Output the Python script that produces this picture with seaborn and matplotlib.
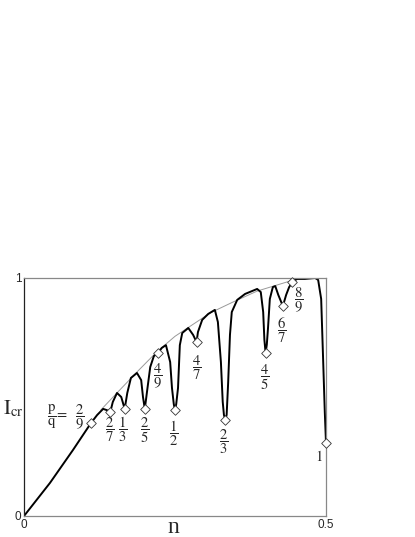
import matplotlib
matplotlib.use("Agg")
import matplotlib.pyplot as plt
import seaborn as sns
import pandas as pd

# critical current curve
n_curve = [0.0, 0.043, 0.081, 0.111, 0.121, 0.131, 0.137, 0.1429, 0.147, 0.154,
           0.161, 0.1667, 0.171, 0.177, 0.187, 0.194, 0.197, 0.2, 0.204, 0.209,
           0.215, 0.2222, 0.228, 0.235, 0.242, 0.245, 0.248, 0.25, 0.252, 0.255,
           0.258, 0.262, 0.272, 0.280, 0.2857, 0.288, 0.295, 0.305, 0.316, 0.321,
           0.326, 0.329, 0.331, 0.3333, 0.3355, 0.338, 0.341, 0.344, 0.353, 0.366,
           0.386, 0.392, 0.396, 0.398, 0.4, 0.402, 0.404, 0.407, 0.412, 0.416,
           0.421, 0.4286, 0.434, 0.439, 0.4444, 0.452, 0.465, 0.482, 0.487, 0.492,
           0.495, 0.498, 0.5]
i_curve = [0.0, 0.139, 0.277, 0.391, 0.424, 0.450, 0.445, 0.437, 0.479, 0.517,
           0.500, 0.450, 0.517, 0.580, 0.601, 0.571, 0.500, 0.450, 0.529, 0.626,
           0.672, 0.685, 0.706, 0.718, 0.647, 0.538, 0.470, 0.445, 0.470, 0.538,
           0.718, 0.769, 0.790, 0.761, 0.731, 0.773, 0.824, 0.849, 0.866, 0.815,
           0.647, 0.480, 0.425, 0.403, 0.425, 0.560, 0.761, 0.857, 0.908, 0.933,
           0.954, 0.941, 0.857, 0.740, 0.685, 0.720, 0.790, 0.912, 0.962, 0.966,
           0.929, 0.882, 0.929, 0.962, 0.983, 0.996, 0.996, 1.0, 0.992, 0.912,
           0.676, 0.437, 0.307]

# thin envelope
n_env = [0.127, 0.155, 0.187, 0.220, 0.250, 0.291, 0.308, 0.346, 0.386, 0.444, 0.457]
i_env = [0.445, 0.520, 0.605, 0.690, 0.755, 0.824, 0.853, 0.899, 0.945, 0.990, 1.0]

# resonances p/q at n = p/(2q)
pq_labels = [r"$\dfrac{2}{9}$", r"$\dfrac{2}{7}$", r"$\dfrac{1}{3}$", r"$\dfrac{2}{5}$",
             r"$\dfrac{4}{9}$", r"$\dfrac{1}{2}$", r"$\dfrac{4}{7}$", r"$\dfrac{2}{3}$",
             r"$\dfrac{4}{5}$", r"$\dfrac{6}{7}$", r"$\dfrac{8}{9}$", "1"]
n_res = [1 / 9, 1 / 7, 1 / 6, 1 / 5, 2 / 9, 1 / 4, 2 / 7, 1 / 3, 2 / 5, 3 / 7, 4 / 9, 1 / 2]
i_res = [0.391, 0.437, 0.450, 0.450, 0.685, 0.445, 0.731, 0.403, 0.685, 0.882, 0.983, 0.307]

# where each label sits
lab_x = [0.0927, 0.142, 0.164, 0.199, 0.222, 0.248, 0.286, 0.330, 0.399, 0.427, 0.455, 0.488]
lab_y = [0.416, 0.362, 0.364, 0.362, 0.585, 0.348, 0.625, 0.314, 0.585, 0.780, 0.905, 0.248]

sns.set_style("white")
plt.rcParams["mathtext.fontset"] = "stix"
plt.rcParams["font.family"] = ["Liberation Sans", "DejaVu Sans"]

fig = plt.figure(figsize=(4.15, 5.37), dpi=100)
ax = fig.add_axes([24 / 415, 21 / 537, 302 / 415, 238 / 537])

df_curve = pd.DataFrame({"n": n_curve, "I": i_curve})
df_env = pd.DataFrame({"n": n_env, "I": i_env})
df_res = pd.DataFrame({"n": n_res, "I": i_res})

sns.lineplot(data=df_env, x="n", y="I", color="#999999", lw=0.7, estimator=None, ax=ax)
sns.lineplot(data=df_curve, x="n", y="I", color="black", lw=1.4, estimator=None, ax=ax)
sns.scatterplot(data=df_res, x="n", y="I", marker="D", s=24, facecolor="white",
                edgecolor="#333333", linewidth=0.6, zorder=5, clip_on=False, ax=ax)

for lab, x, y in zip(pq_labels, lab_x, lab_y):
    ax.text(x, y, lab, ha="center", va="center", fontsize=10.5, family="STIXGeneral")
ax.text(0.0546, 0.416, r"$\dfrac{\mathrm{p}}{\mathrm{q}}\!=$", ha="center", va="center",
        fontsize=10.5)

ax.set_xlim(0, 0.5)
ax.set_ylim(0, 1)
ax.set_xticks([0, 0.25, 0.5])
ax.set_xticklabels(["0", "", "0.5"])
ax.set_yticks([0, 0.2, 0.4, 0.6, 0.8, 1.0])
ax.set_yticklabels(["0", "", "", "", "", "1"])
ax.tick_params(direction="in", length=2, width=0.6, color="#aaaaaa",
               labelsize=8.5, pad=2)
ax.set_xlabel("")
ax.set_ylabel("")

for side in ["top", "right", "bottom"]:
    ax.spines[side].set_color("#888888")
    ax.spines[side].set_linewidth(0.9)
ax.spines["left"].set_color("#222222")
ax.spines["left"].set_linewidth(0.9)

ax.text(0.248, -0.072, "n", ha="center", va="baseline", fontsize=17, family="Liberation Serif")
ax.text(-0.018, 0.45, r"$\mathrm{I}_{\mathrm{cr}}$", ha="center", va="center",
        fontsize=15, clip_on=False)

fig.savefig("out.png", dpi=100)
